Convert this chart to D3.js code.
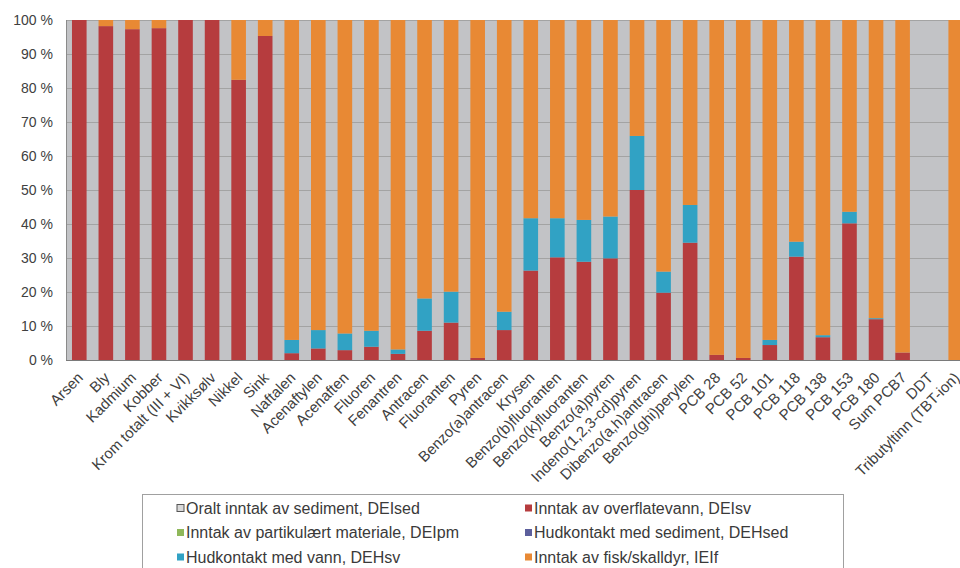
<!DOCTYPE html>
<html>
<head>
<meta charset="utf-8">
<script src="https://cdn.jsdelivr.net/npm/d3@7"></script>
<style>
	body { margin: 0; background: #fff; }
	svg { display: block; font-family: "Liberation Sans", Arial, sans-serif; }
</style>
</head>
<body>
<script>

var categories = ["Arsen", "Bly", "Kadmium", "Kobber", "Krom totalt (III + VI)", "Kvikksølv", "Nikkel", "Sink",
	"Naftalen", "Acenaftylen", "Acenaften", "Fluoren", "Fenantren", "Antracen", "Fluoranten", "Pyren",
	"Benzo(a)antracen", "Krysen", "Benzo(b)fluoranten", "Benzo(k)fluoranten", "Benzo(a)pyren",
	"Indeno(1,2,3-cd)pyren", "Dibenzo(a,h)antracen", "Benzo(ghi)perylen", "PCB 28", "PCB 52", "PCB 101",
	"PCB 118", "PCB 138", "PCB 153", "PCB 180", "Sum PCB7", "DDT", "Tributyltinn (TBT-ion)"];

// percent of total exposure per route
var deised = [0,0,0,0,0,0,0,0, 0,0,0,0,0,0,0,0, 0,0,0,0,0,0,0,0, 0,0,0,0,0,0,0,0, 0,0];
var deisv  = [100, 98.2, 97.3, 97.6, 100, 100, 82.4, 95.3, 2, 3.4, 2.9, 3.9, 1.8, 8.6, 11, 0.6,
	8.8, 26.3, 30.2, 28.9, 29.9, 50, 19.8, 34.5, 1.5, 0.6, 4.4, 30.4, 6.7, 40.2, 12, 2.2, 0, 0];
var deipm  = [0,0,0,0,0,0,0,0, 0,0,0,0,0,0,0,0, 0,0,0,0,0,0,0,0, 0,0,0,0,0,0,0,0, 0,0];
var dehsed = [0,0,0,0,0,0,0,0, 0,0,0,0,0,0,0,0, 0,0,0,0,0,0,0,0, 0,0,0,0,0,0,0,0, 0,0];
var dehsv  = [0, 0, 0, 0, 0, 0, 0, 0, 3.9, 5.4, 4.9, 4.7, 1.3, 9.5, 9.1, 0,
	5.4, 15.4, 11.5, 12.3, 12.3, 15.9, 6.2, 11.1, 0, 0, 1.5, 4.4, 0.6, 3.4, 0.3, 0, 0, 0];
var ieif   = [0, 1.8, 2.7, 2.4, 0, 0, 17.6, 4.7, 94.1, 91.2, 92.2, 91.4, 96.9, 81.9, 79.9, 99.4,
	85.8, 58.3, 58.3, 58.8, 57.8, 34.1, 74, 54.4, 98.5, 99.4, 94.1, 65.2, 92.7, 56.4, 87.7, 97.8, 0, 100];

var yTicks = [0, 10, 20, 30, 40, 50, 60, 70, 80, 90, 100];

var seriesKeys = ["deised", "deisv", "deipm", "dehsed", "dehsv", "ieif"];
var seriesNames = {
	"deised": "Oralt inntak av sediment, DEIsed",
	"deisv": "Inntak av overflatevann, DEIsv",
	"deipm": "Inntak av partikulært materiale, DEIpm",
	"dehsed": "Hudkontakt med sediment, DEHsed",
	"dehsv": "Hudkontakt med vann, DEHsv",
	"ieif": "Inntak av fisk/skalldyr, IEIf"
};
var colorObj = {
	"deised": "#d9d9d9",
	"deisv": "#b63c3e",
	"deipm": "#8fb85a",
	"dehsed": "#5c5f9c",
	"dehsv": "#31a2c4",
	"ieif": "#e88934"
};
var legendOrder = ["deised", "deisv", "deipm", "dehsed", "dehsv", "ieif"];

var table = [];
for (var i = 0; i < categories.length; i++) {
	table.push({
		cat: categories[i],
		deised: deised[i], deisv: deisv[i], deipm: deipm[i],
		dehsed: dehsed[i], dehsv: dehsv[i], ieif: ieif[i]
	});
}

var plotLeft = 66, plotRight = 969, plotTop = 20, plotBottom = 360;

var svg = d3.select("body").append("svg")
			.attr("width", 960)
			.attr("height", 568);

var x = d3.scaleBand()
		.domain(categories)
		.range([plotLeft, plotRight])
		.paddingInner(0.45)
		.paddingOuter(0.225);

var y = d3.scaleLinear()
		.domain([0, 100])
		.range([plotBottom, plotTop]);

// plot background
svg.append("rect")
	.attr("x", plotLeft)
	.attr("y", plotTop)
	.attr("width", plotRight - plotLeft)
	.attr("height", plotBottom - plotTop)
	.attr("fill", "#c2c3c6");

// grid lines
svg.append("g")
	.selectAll("line")
	.data(yTicks)
	.join("line")
	.attr("x1", plotLeft)
	.attr("x2", plotRight)
	.attr("y1", function(d){ return Math.round(y(d)) + 0.5; })
	.attr("y2", function(d){ return Math.round(y(d)) + 0.5; })
	.attr("stroke", "#a3a3a3")
	.attr("stroke-width", 1);

var stacked = d3.stack().keys(seriesKeys)(table);

svg.append("g")
	.selectAll("g")
	.data(stacked)
	.join("g")
	.attr("fill", function(d){ return colorObj[d.key]; })
	.selectAll("rect")
	.data(function(d){ return d; })
	.join("rect")
	.attr("x", function(d){ return x(d.data.cat); })
	.attr("width", x.bandwidth())
	.attr("y", function(d){ return y(d[1]); })
	.attr("height", function(d){ return y(d[0]) - y(d[1]); });

// axis lines
svg.append("line")
	.attr("x1", plotLeft + 0.5).attr("x2", plotLeft + 0.5)
	.attr("y1", plotTop).attr("y2", plotBottom)
	.attr("stroke", "#8a8a8a");
svg.append("line")
	.attr("x1", plotLeft).attr("x2", plotRight)
	.attr("y1", plotBottom + 0.5).attr("y2", plotBottom + 0.5)
	.attr("stroke", "#7a7a7a");

var yAxis = svg.append("g")
			.attr("transform", "translate(" + plotLeft + ",0)")
			.call(d3.axisLeft(y).tickValues(yTicks).tickSize(0).tickPadding(13)
				.tickFormat(function(d){ return d + " %"; }));
yAxis.select(".domain").remove();
yAxis.selectAll("text")
	.attr("font-size", 14)
	.attr("font-family", "Liberation Sans, Arial, sans-serif")
	.attr("fill", "#404040");

var xAxis = svg.append("g")
			.attr("transform", "translate(0," + plotBottom + ")")
			.call(d3.axisBottom(x).tickSize(0).tickPadding(0));
xAxis.select(".domain").remove();
xAxis.selectAll("text")
	.attr("font-size", 15)
	.attr("font-family", "Liberation Sans, Arial, sans-serif")
	.attr("fill", "#404040")
	.attr("text-anchor", "end")
	.attr("dy", "0.35em")
	.attr("y", 0)
	.attr("transform", "translate(1,15) rotate(-45)");

// legend
var legend = svg.append("g");
legend.append("rect")
	.attr("x", 142.5)
	.attr("y", 494.5)
	.attr("width", 701)
	.attr("height", 90)
	.attr("fill", "#fff")
	.attr("stroke", "#a0a0a0");

for (var i = 0; i < legendOrder.length; i++) {
	var key = legendOrder[i];
	var col = i % 2, row = Math.floor(i / 2);
	var lx = col == 0 ? 177 : 525;
	var ly = 508 + row * 24.5;
	legend.append("rect")
		.attr("x", lx)
		.attr("y", ly - 3.5)
		.attr("width", 7)
		.attr("height", 7)
		.attr("fill", colorObj[key])
		.attr("stroke", key == "deised" ? "#555" : "none");
	legend.append("text")
		.attr("x", lx + 9)
		.attr("y", ly)
		.attr("dy", "0.35em")
		.attr("font-size", 16)
		.attr("fill", "#3a3a3a")
		.text(seriesNames[key]);
}

</script>
</body>
</html>
